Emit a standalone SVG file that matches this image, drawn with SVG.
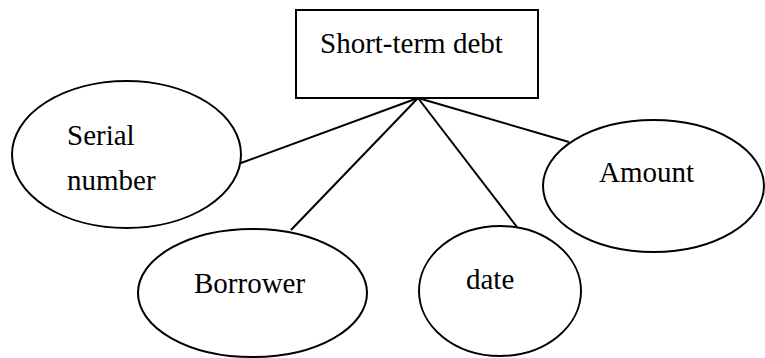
<svg xmlns="http://www.w3.org/2000/svg" width="765" height="358" viewBox="0 0 765 358">
  <style>
    .shape { fill: #fff; stroke: #000; stroke-width: 2; }
    .link { stroke: #000; stroke-width: 2; fill: none; }
    .label { font-family: "Liberation Serif", "Times New Roman", serif; font-size: 29px; fill: #000; }
  </style>
  <rect width="765" height="358" fill="#fff"/>

  <!-- connectors from the entity to its attributes -->
  <g id="connectors">
    <line class="link" x1="418" y1="98" x2="241" y2="163"/>
    <line class="link" x1="418" y1="98" x2="291" y2="230"/>
    <line class="link" x1="418" y1="98" x2="517" y2="227"/>
    <line class="link" x1="418" y1="98" x2="569" y2="142"/>
  </g>

  <!-- entity -->
  <g id="short-term-debt">
    <rect class="shape" x="296" y="10" width="242" height="88"/>
    <text class="label" x="320" y="53">Short-term debt</text>
  </g>

  <!-- attributes -->
  <g id="serial-number">
    <ellipse class="shape" cx="126.5" cy="154.5" rx="114.5" ry="73.5"/>
    <text class="label" x="67" y="145">Serial</text>
    <text class="label" x="67" y="190">number</text>
  </g>

  <g id="borrower">
    <ellipse class="shape" cx="252.5" cy="293" rx="114.5" ry="64"/>
    <text class="label" x="194" y="293">Borrower</text>
  </g>

  <g id="date">
    <ellipse class="shape" cx="500" cy="291" rx="81" ry="65"/>
    <text class="label" x="466" y="289">date</text>
  </g>

  <g id="amount">
    <ellipse class="shape" cx="653.5" cy="186" rx="110.5" ry="66"/>
    <text class="label" x="599" y="182">Amount</text>
  </g>
</svg>
